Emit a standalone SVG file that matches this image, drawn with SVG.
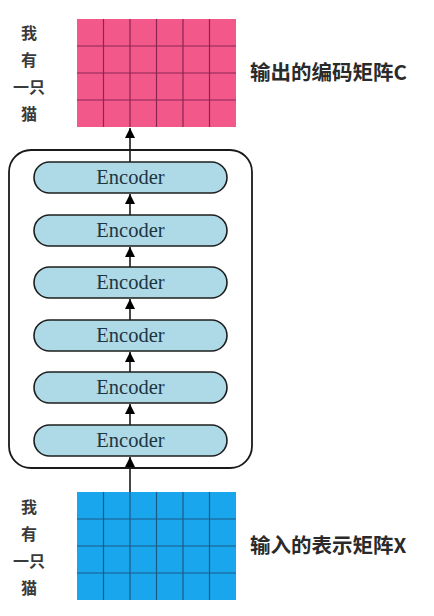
<svg xmlns="http://www.w3.org/2000/svg" width="434" height="616" viewBox="0 0 434 616">
<defs>
<style>
.cj{font-family:"Noto Sans CJK SC","Noto Sans",sans-serif;fill:#3a3a3a;}
.lbl{font-size:16px;text-anchor:middle;font-weight:bold;}
.ttl{font-size:20.5px;font-weight:bold;fill:#2a2a2a;}
.enc rect{fill:#ADDAE6;stroke:#1e1e1e;stroke-width:1.6;}
.enc text{font-family:"Liberation Serif","Times New Roman",serif;font-size:20.5px;fill:#1d3542;text-anchor:middle;}
.conn line{stroke:#1a1a1a;stroke-width:1.6;}
.gp line{stroke:#8A2450;stroke-width:1.2;}
.gb line{stroke:#1C5A86;stroke-width:1.2;}
</style>
<marker id="ah" viewBox="0 0 10 10" refX="10" refY="5" markerWidth="10" markerHeight="11" markerUnits="userSpaceOnUse" orient="auto">
<path d="M0,0 L10,5 L0,10 z" fill="#000"/>
</marker>
</defs>
<rect width="434" height="616" fill="#fff"/>

<g id="output-matrix" class="gp">
<rect x="77" y="19" width="159" height="108" fill="#F2598A"/>
<line x1="103.5" y1="19" x2="103.5" y2="127"/><line x1="130" y1="19" x2="130" y2="127"/><line x1="156.5" y1="19" x2="156.5" y2="127"/><line x1="183" y1="19" x2="183" y2="127"/><line x1="209.5" y1="19" x2="209.5" y2="127"/>
<line x1="77" y1="46" x2="236" y2="46"/><line x1="77" y1="73" x2="236" y2="73"/><line x1="77" y1="100" x2="236" y2="100"/>
</g>
<g id="output-words">
<text x="29" y="39" class="cj lbl">我</text>
<text x="29" y="66" class="cj lbl">有</text>
<text x="29" y="93" class="cj lbl">一只</text>
<text x="29" y="120" class="cj lbl">猫</text>
</g>
<g id="output-label"><text x="250" y="80" class="cj ttl">输出的编码矩阵C</text></g>

<g id="encoder-stack"><rect x="9" y="150" width="243" height="318" rx="22" fill="none" stroke="#1a1a1a" stroke-width="1.8"/></g>

<g id="enc1" class="enc"><rect x="34" y="162" width="193" height="31" rx="15.5"/><text x="130.5" y="184">Encoder</text></g>
<g id="enc2" class="enc"><rect x="34" y="215" width="193" height="31" rx="15.5"/><text x="130.5" y="237">Encoder</text></g>
<g id="enc3" class="enc"><rect x="34" y="267" width="193" height="31" rx="15.5"/><text x="130.5" y="289">Encoder</text></g>
<g id="enc4" class="enc"><rect x="34" y="320" width="193" height="31" rx="15.5"/><text x="130.5" y="342">Encoder</text></g>
<g id="enc5" class="enc"><rect x="34" y="372" width="193" height="31" rx="15.5"/><text x="130.5" y="394">Encoder</text></g>
<g id="enc6" class="enc"><rect x="34" y="425" width="193" height="31" rx="15.5"/><text x="130.5" y="447">Encoder</text></g>

<g id="input-matrix" class="gb">
<rect x="77" y="492" width="159" height="108" fill="#1AA6EC"/>
<line x1="103.5" y1="492" x2="103.5" y2="600"/><line x1="130" y1="492" x2="130" y2="600"/><line x1="156.5" y1="492" x2="156.5" y2="600"/><line x1="183" y1="492" x2="183" y2="600"/><line x1="209.5" y1="492" x2="209.5" y2="600"/>
<line x1="77" y1="519" x2="236" y2="519"/><line x1="77" y1="546" x2="236" y2="546"/><line x1="77" y1="573" x2="236" y2="573"/>
</g>
<g id="input-words">
<text x="29" y="513" class="cj lbl">我</text>
<text x="29" y="540" class="cj lbl">有</text>
<text x="29" y="567" class="cj lbl">一只</text>
<text x="29" y="594" class="cj lbl">猫</text>
</g>
<g id="input-label"><text x="250" y="553" class="cj ttl">输入的表示矩阵X</text></g>

<g id="connectors" class="conn">
<line x1="130" y1="492" x2="130" y2="457" marker-end="url(#ah)"/>
<line x1="130" y1="425" x2="130" y2="404" marker-end="url(#ah)"/>
<line x1="130" y1="372" x2="130" y2="352" marker-end="url(#ah)"/>
<line x1="130" y1="320" x2="130" y2="299" marker-end="url(#ah)"/>
<line x1="130" y1="267" x2="130" y2="247" marker-end="url(#ah)"/>
<line x1="130" y1="215" x2="130" y2="194" marker-end="url(#ah)"/>
<line x1="130" y1="162" x2="130" y2="128" marker-end="url(#ah)"/>
</g>
</svg>
